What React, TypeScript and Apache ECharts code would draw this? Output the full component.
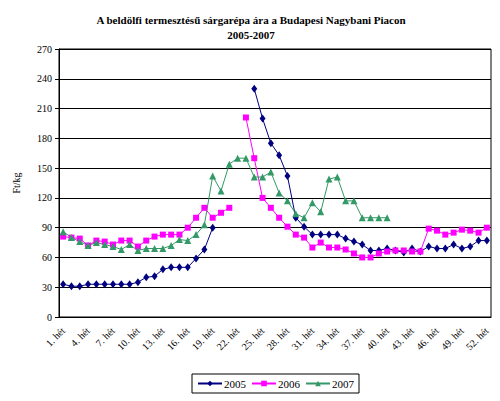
import React, { useEffect, useRef } from "react";
import * as echarts from "echarts";

const weeks: string[] = Array.from({ length: 52 }, (_, i) => `${i + 1}. hét`);

const yTicks = { min: 0, max: 270, interval: 30 };

const s2005: (number | null)[] = [
  33, 31, 31, 33, 33, 33, 33, 33, 33, 35, 40, 41, 48, 50, 50, 50, 59, 68, 90,
  null, null, null, null,
  230, 200, 175, 163, 142, 100, 91, 83, 83, 83, 83, 79, 76, 73, 67, 67, 69, 67,
  65, 69, 66, 71, 69, 69, 73, 69, 71, 77, 77,
];

const s2006: (number | null)[] = [
  81, 80, 79, 72, 77, 76, 73, 77, 77, 71, 77, 81, 83, 83, 83, 90, 100, 110, 100,
  105, 110, null, 201, 160, 120, 110, 100, 91, 83, 80, 70, 75, 70, 70, 68, 64, 60,
  60, 64, 66, 67, 67, 66, 66, 89, 87, 83, 85, 88, 87, 85, 90,
];

const s2007: (number | null)[] = [
  86, 80, 76, 72, 75, 73, 71, 68, 73, 67, 69, 69, 69, 72, 78, 77, 83, 93, 142,
  127, 154, 160, 160, 141, 141, 146, 125, 117, 104, 100, 115, 106, 139, 141, 117,
  117, 100, 100, 100, 100, null, null, null, null, null, null, null, null, null,
  null, null, null,
];

const seriesNames = ["2005", "2006", "2007"];
const colors = ["#000080", "#FF00FF", "#339966"];

export default function App() {
  const ref = useRef<HTMLDivElement>(null);
  useEffect(() => {
    if (!ref.current) return;
    const chart = echarts.init(ref.current, null, { renderer: "svg" });
    const font = "'Liberation Serif', 'Times New Roman', serif";
    const mk = (name: string, data: (number | null)[], color: string, symbol: string, size: number | number[]) => ({
      name,
      type: "line",
      data,
      connectNulls: false,
      symbol,
      symbolSize: size,
      showAllSymbol: true,
      lineStyle: { color, width: 1 },
      itemStyle: { color, borderWidth: 0 },
      emphasis: { disabled: true },
    });
    chart.setOption({
      animation: false,
      textStyle: { fontFamily: font, color: "#000" },
      title: {
        text: "A beldölfi termesztésű sárgarépa ára a Budapesi Nagybani Piacon\n2005-2007",
        left: 246,
        top: 7,
        textAlign: "center",
        textStyle: {
          fontFamily: font,
          fontSize: 11,
          fontWeight: "bold",
          color: "#000",
          lineHeight: 15,
        },
      },
      grid: {
        left: 59,
        right: 9,
        top: 49,
        bottom: 84,
        show: true,
        borderColor: "#000",
        borderWidth: 1,
        backgroundColor: "transparent",
      },
      legend: {
        data: seriesNames,
        left: 192,
        top: 374,
        orient: "horizontal",
        borderColor: "#000",
        borderWidth: 1,
        padding: [4, 5],
        itemWidth: 24,
        itemHeight: 7,
        itemGap: 5,
        textStyle: { fontFamily: font, fontSize: 11, color: "#000", padding: [0, 0, 0, -3] },
      },
      xAxis: {
        type: "category",
        data: weeks,
        boundaryGap: true,
        axisLine: { lineStyle: { color: "#000", width: 1 } },
        axisTick: { interval: 0, length: 4, lineStyle: { color: "#000" } },
        axisLabel: {
          interval: 2,
          rotate: 45,
          fontSize: 10,
          fontFamily: font,
          color: "#000",
          margin: 12,
        },
        splitLine: { show: false },
      },
      yAxis: {
        type: "value",
        min: yTicks.min,
        max: yTicks.max,
        interval: yTicks.interval,
        name: "Ft/kg",
        nameLocation: "middle",
        nameGap: 38,
        nameRotate: 90,
        nameTextStyle: { fontFamily: font, fontSize: 10, color: "#000" },
        axisLine: { show: true, lineStyle: { color: "#000", width: 1 } },
        axisTick: { show: true, length: 4, lineStyle: { color: "#000" } },
        axisLabel: { fontSize: 10, fontFamily: font, color: "#000", margin: 7 },
        splitLine: { show: true, lineStyle: { color: "#000", width: 1 } },
      },
      series: [
        mk(seriesNames[0], s2005, colors[0], "diamond", [6, 8]),
        mk(seriesNames[1], s2006, colors[1], "rect", 6),
        mk(seriesNames[2], s2007, colors[2], "triangle", 7),
      ],
    });
    return () => chart.dispose();
  }, []);
  return (
    <div
      ref={ref}
      style={{ position: "fixed", left: 0, top: 0, width: 500, height: 401, background: "#fff" }}
    />
  );
}
